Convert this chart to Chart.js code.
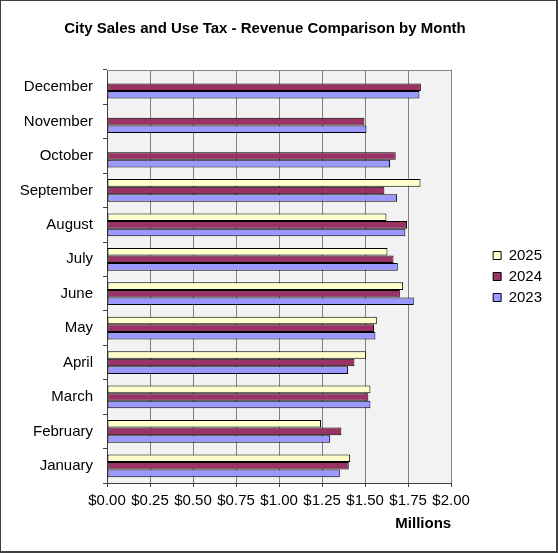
<!DOCTYPE html>
<html>
<head>
<meta charset="utf-8">
<script src="https://cdn.jsdelivr.net/npm/chart.js@4.4.1/dist/chart.umd.min.js"></script>
<style>
html,body{margin:0;padding:0;background:#fff;}
#wrap{position:relative;width:558px;height:553px;overflow:hidden;}
#c{position:absolute;left:0;top:0;}
#frame{position:absolute;left:0;top:0;width:558px;height:553px;box-sizing:border-box;border:solid #404040;border-width:1px 2px 2px 1px;pointer-events:none;}
</style>
</head>
<body>
<div id="wrap"><canvas id="c" width="558" height="553"></canvas><div id="frame"></div></div>
<script>
const chartTitle = 'City Sales and Use Tax - Revenue Comparison by Month';
const axisTitle = 'Millions';
const months = ['January','February','March','April','May','June','July','August','September','October','November','December'];
const seriesNames = ['2025','2024','2023'];
const sales2025 = [1.413, 1.244, 1.531, 1.506, 1.568, 1.721, 1.630, 1.624, 1.822, null, null, null];
const sales2024 = [1.405, 1.362, 1.519, 1.438, 1.552, 1.702, 1.665, 1.744, 1.612, 1.678, 1.496, 1.824];
const sales2023 = [1.353, 1.297, 1.531, 1.401, 1.560, 1.783, 1.690, 1.734, 1.686, 1.645, 1.508, 1.816];
const xMin = 0, xMax = 2, xStep = 0.25;

const FONT = '"Liberation Sans", Arial, sans-serif';
Chart.defaults.font.family = FONT;
Chart.defaults.color = '#000';

const plotBg = {
  id: 'plotBg',
  beforeDraw(chart) {
    const a = chart.chartArea, ctx = chart.ctx;
    ctx.save();
    ctx.fillStyle = '#f2f2f2';
    ctx.fillRect(a.left, a.top, a.right - a.left, a.bottom - a.top);
    ctx.restore();
  },
  beforeDatasetsDraw(chart) {
    const a = chart.chartArea, ctx = chart.ctx;
    ctx.save();
    ctx.strokeStyle = '#868686';
    ctx.lineWidth = 1;
    ctx.beginPath();
    ctx.moveTo(a.left, a.top + 0.5);
    ctx.lineTo(a.right, a.top + 0.5);
    ctx.stroke();
    ctx.restore();
  },
  afterDraw(chart) {
    const ctx = chart.ctx;
    ctx.save();
    ctx.font = 'bold 15px ' + FONT;
    ctx.fillStyle = '#000';
    ctx.textAlign = 'center';
    ctx.textBaseline = 'alphabetic';
    ctx.fillText(chartTitle, 265, 33);
    ctx.restore();
  }
};

new Chart(document.getElementById('c'), {
  type: 'bar',
  data: {
    labels: months,
    datasets: [
      { label: seriesNames[0], data: sales2025, backgroundColor: '#FFFFCC' },
      { label: seriesNames[1], data: sales2024, backgroundColor: '#993366' },
      { label: seriesNames[2], data: sales2023, backgroundColor: '#9999FF' }
    ]
  },
  options: {
    indexAxis: 'y',
    responsive: false,
    animation: false,
    devicePixelRatio: 1,
    layout: { padding: { left: 10, right: 6, top: 70, bottom: 20 } },
    datasets: {
      bar: {
        borderColor: '#000',
        borderWidth: 1,
        borderSkipped: false,
        barPercentage: 1,
        categoryPercentage: 0.66
      }
    },
    plugins: {
      title: { display: false },
      tooltip: { enabled: false },
      legend: {
        position: 'right',
        fullSize: false,
        labels: {
          boxWidth: 8,
          boxHeight: 8,
          padding: 6,
          color: '#000',
          font: { size: 15, family: FONT }
        }
      }
    },
    scales: {
      x: {
        type: 'linear',
        min: xMin,
        max: xMax,
        afterFit(scale) { scale.height = 50; },
        ticks: {
          stepSize: xStep,
          autoSkip: false,
          maxRotation: 0,
          padding: 5,
          color: '#000',
          font: { size: 15, family: FONT },
          callback: v => '$' + Number(v).toFixed(2)
        },
        grid: { color: '#808080', tickColor: '#404040', tickLength: 4, lineWidth: 1 },
        border: { color: '#404040', width: 1 },
        title: {
          display: true,
          text: axisTitle,
          align: 'end',
          color: '#000',
          font: { size: 15, weight: 'bold', family: FONT },
          padding: { top: 4, bottom: 0 }
        }
      },
      y: {
        type: 'category',
        reverse: true,
        afterFit(scale) { scale.width = 97; },
        ticks: {
          padding: 10,
          color: '#000',
          font: { size: 15, family: FONT },
          autoSkip: false
        },
        grid: { offset: true, drawOnChartArea: false, tickColor: '#404040', tickLength: 4 },
        border: { color: '#404040', width: 1 }
      },
      gap: {
        type: 'category',
        position: 'right',
        labels: months,
        display: true,
        afterFit(scale) { scale.width = 36; },
        ticks: { display: false },
        grid: { display: false, drawTicks: false },
        border: { display: false }
      }
    }
  },
  plugins: [plotBg]
});
</script>
</body>
</html>
